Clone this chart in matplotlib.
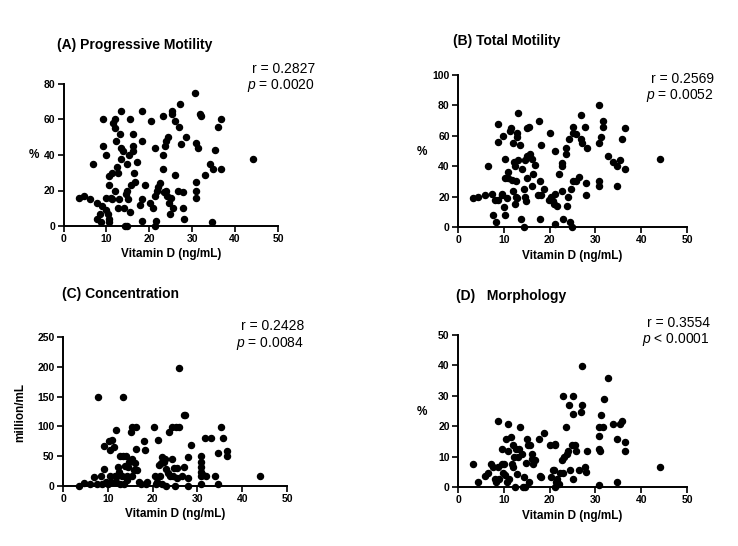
import matplotlib.pyplot as plt

# Vitamin D (ng/mL) vs semen parameters
prog_x = [3.5, 4.7, 6.2, 6.8, 7.8, 8.4, 7.9, 8.7, 9.0, 9.1, 9.1, 9.9, 10.0, 10.0, 10.3,
          10.5, 10.5, 10.5, 10.7, 11.0, 11.2, 11.2, 11.6, 12.0, 12.0, 12.2, 12.0, 12.5,
          12.8, 13.0, 12.8, 13.2, 13.5, 13.5, 13.5, 13.8, 14.1, 14.4, 14.9, 14.6, 14.7,
          14.9, 15.1, 15.3, 15.5, 15.5, 15.7, 16.1, 16.3, 16.3, 16.4, 16.6, 17.2, 17.8,
          18.2, 18.4, 18.4, 18.4, 19.0, 20.3, 20.2, 20.8, 21.3, 21.3, 21.5, 21.3, 21.7,
          22.1, 22.5, 23.1, 23.1, 23.1, 23.4, 23.9, 23.6, 24.0, 24.4, 24.2, 24.7, 24.8,
          25.0, 25.4, 25.4, 25.6, 26.0, 26.0, 26.7, 27.0, 27.1, 27.3, 27.9, 27.9, 28.1,
          28.5, 30.7, 30.9, 30.9, 30.9, 30.9, 31.4, 31.9, 32.1, 33.0, 34.1, 34.7, 34.9,
          35.3, 36.0, 36.6, 36.6, 44.2]
prog_y = [16, 17, 15, 35, 13, 7, 4, 2.5, 11, 60, 45, 16, 40, 9, 7,
          4, 2, 23, 28, 16, 30, 15, 58, 60, 55, 48, 20, 33,
          30, 15, 10, 52, 65, 44, 38, 42, 10, 0, 0, 18, 20,
          35, 15, 40, 60, 8, 23, 52, 45, 42, 30, 25, 36, 12,
          65, 48, 15, 3, 23, 59, 13, 10, 44, 17, 3, 0, 20,
          22, 24, 62, 40, 32, 19, 20, 45, 48, 50, 17, 13, 7,
          16, 65, 63, 10, 59, 29, 20, 56, 69, 46, 19, 10, 4,
          50, 75, 47, 25, 20, 16, 44, 63, 62, 29, 35, 2, 32,
          43, 56, 60, 32, 38]

total_x = [3.3, 4.4, 5.8, 6.6, 7.5, 7.7, 8.0, 8.4, 8.7, 8.7, 8.7, 9.5, 9.7, 9.9, 10.0,
           10.2, 10.2, 10.2, 10.6, 11.0, 11.0, 11.3, 11.5, 11.7, 11.9, 12.0, 12.2, 12.4,
           12.4, 12.6, 12.6, 12.8, 12.9, 13.1, 12.9, 13.1, 13.5, 13.7, 13.9, 14.4, 14.4,
           14.6, 14.7, 14.8, 15.0, 15.0, 15.1, 15.5, 15.8, 16.1, 16.1, 16.3, 16.8, 17.5,
           17.7, 18.0, 18.2, 18.0, 18.2, 18.8, 20.1, 19.9, 20.4, 20.7, 20.9, 21.2, 21.2,
           21.2, 21.7, 22.1, 22.6, 22.8, 22.8, 23.0, 23.6, 23.6, 23.7, 24.1, 24.3, 24.5,
           24.6, 24.8, 25.0, 25.0, 25.2, 25.8, 25.8, 26.5, 26.8, 26.9, 27.0, 27.7, 27.9,
           27.9, 28.2, 30.7, 30.7, 30.7, 30.7, 31.2, 31.7, 31.7, 32.8, 33.9, 34.7, 34.7,
           35.3, 35.8, 36.5, 36.5, 44.0]
total_y = [19, 20, 21, 40, 22, 8, 18, 3, 68, 56, 18, 21, 22, 60, 13,
           8, 45, 32, 19, 36, 32, 63, 65, 31, 24, 55, 43, 15,
           40, 20, 30, 62, 59, 75, 19, 44, 54, 5, 38, 25, 0,
           20, 44, 17, 32, 47, 65, 66, 48, 45, 27, 35, 41, 21,
           70, 5, 54, 30, 21, 25, 62, 18, 20, 17, 15, 2, 50,
           22, 14, 35, 24, 42, 40, 5, 52, 48, 14, 20, 58, 3,
           25, 0, 30, 66, 62, 61, 30, 33, 58, 74, 55, 66, 29,
           21, 52, 80, 55, 30, 27, 59, 70, 66, 47, 43, 40, 27,
           44, 58, 65, 38, 45]

conc_x = [3.6, 4.6, 6.1, 6.9, 7.6, 7.8, 8.4, 8.8, 9.1, 9.1, 9.6, 10.1, 10.3, 10.4, 10.6,
          10.8, 11.0, 11.3, 11.6, 11.8, 11.9, 12.1, 12.3, 12.5, 12.7, 12.8, 13.1, 13.3,
          13.4, 13.6, 13.8, 14.0, 14.2, 14.3, 14.6, 14.8, 15.1, 15.3, 15.3, 15.5, 15.8,
          16.0, 16.3, 16.3, 16.6, 17.0, 17.5, 18.1, 18.3, 18.5, 18.8, 20.3, 20.5, 20.7,
          21.0, 21.3, 21.5, 21.6, 21.8, 22.0, 22.2, 22.5, 22.8, 23.0, 23.1, 23.5, 23.7,
          23.9, 24.3, 24.3, 24.5, 24.8, 25.0, 25.2, 25.4, 25.4, 25.8, 26.0, 26.5, 26.9,
          27.0, 27.2, 27.8, 28.0, 28.0, 28.5, 30.7, 30.7, 30.7, 30.7, 30.7, 30.7, 31.3,
          31.7, 31.9, 33.0, 33.9, 34.7, 34.7, 35.2, 35.8, 36.6, 36.6, 44.0]
conc_y = [0, 5, 3, 15, 3, 149, 17, 3, 67, 28, 7, 3, 75, 60, 17,
          7, 78, 65, 16, 94, 7, 17, 32, 24, 3, 50, 16, 149,
          50, 3, 33, 50, 10, 16, 32, 41, 90, 46, 16, 99, 27,
          38, 99, 62, 27, 7, 3, 75, 60, 3, 7, 99, 16, 3,
          7, 78, 35, 17, 39, 49, 3, 41, 46, 0, 28, 22, 90,
          16, 99, 45, 17, 30, 0, 99, 30, 13, 198, 99, 16, 119,
          32, 119, 0, 13, 49, 69, 50, 41, 32, 24, 16, 3, 18,
          80, 16, 80, 16, 56, 3, 99, 80, 59, 50, 16]

morph_x = [3.3, 4.4, 5.8, 6.6, 7.3, 7.7, 8.0, 8.4, 8.7, 8.7, 9.0, 9.5, 9.7, 9.9, 10.0,
           10.2, 10.4, 10.6, 11.0, 11.0, 11.2, 11.5, 11.7, 11.9, 12.0, 12.2, 12.4, 12.6,
           12.8, 13.1, 13.3, 13.6, 13.9, 14.1, 14.4, 14.6, 14.8, 15.1, 15.3, 15.5, 15.8,
           16.1, 16.1, 16.3, 16.8, 17.7, 17.9, 18.2, 18.8, 20.1, 20.2, 20.7, 20.9, 21.2,
           21.2, 21.2, 21.4, 21.7, 22.1, 22.3, 22.6, 23.0, 23.0, 23.1, 23.6, 23.9, 24.1,
           24.3, 24.5, 24.8, 25.0, 25.0, 25.2, 25.5, 25.8, 26.5, 26.8, 27.0, 27.0, 27.7,
           27.9, 28.2, 30.7, 30.7, 30.7, 30.7, 30.9, 31.2, 31.7, 31.9, 32.8, 33.9, 34.7,
           34.7, 35.3, 35.8, 36.5, 36.5, 44.0]
morph_y = [7.7, 1.6, 3.6, 4.6, 7.7, 6.6, 2.7, 1.6, 21.8, 6.6, 2.7, 7.7, 12.6, 4.6, 7.7,
           3.8, 15.9, 1.6, 20.7, 11.9, 2.7, 16.5, 7.7, 6.6, 13.7, 9.9, 0, 12.6,
           4.4, 9.9, 12.6, 19.8, 11.0, 0, 3.3, 0, 7.9, 15.9, 13.7, 1.6, 13.7,
           10.8, 9.3, 7.7, 8.8, 15.9, 3.5, 3.3, 17.8, 13.7, 3.3, 5.7, 5.7, 14.3,
           13.7, 0, 1.6, 2.7, 0.9, 4.6, 8.8, 29.9, 4.6, 9.9, 19.8, 11.0, 11.9,
           26.9, 5.5, 13.7, 29.9, 2.7, 24.0, 13.7, 11.9, 5.7, 24.7, 39.9, 26.9, 6.6,
           4.9, 11.9, 0.5, 16.7, 19.8, 12.6, 11.9, 23.8, 19.8, 28.8, 35.7, 20.7, 1.6,
           15.9, 20.7, 21.8, 14.8, 11.9, 6.6]

W, H = 738, 546

plt.rcParams["font.family"] = "Liberation Sans"
plt.rcParams["mathtext.fontset"] = "custom"
plt.rcParams["mathtext.rm"] = "Liberation Sans"
plt.rcParams["mathtext.it"] = "Liberation Sans:italic"


def frac(x, y):
    return x / W, 1 - y / H


def panel(fig, box, xs, ys, ymax, ystep, title, title_xy, ylabel, ylabel_xy,
          r_text, p_text, stat_xy, rot=0):
    left, top, right, bottom = box
    ax = fig.add_axes([left / W, 1 - bottom / H, (right - left) / W, (bottom - top) / H])
    ax.scatter(xs, ys, s=19, color="black", clip_on=False, zorder=3)
    ax.set_xlim(0, 50)
    ax.set_ylim(0, ymax)
    ax.set_xticks(range(0, 51, 10))
    ax.set_yticks(range(0, ymax + 1, ystep))
    for side in ["top", "right"]:
        ax.spines[side].set_visible(False)
    for side in ["left", "bottom"]:
        ax.spines[side].set_linewidth(1.4)
    ax.tick_params(direction="out", length=4, width=1.2, labelsize=7.5, pad=2)
    for lab in ax.get_xticklabels() + ax.get_yticklabels():
        lab.set_fontweight("bold")
    ax.set_xlabel("Vitamin D (ng/mL)", fontsize=8.5, fontweight="bold", labelpad=3)

    fig.text(*frac(*title_xy), title, fontsize=10, fontweight="bold", va="center")
    fig.text(*frac(*ylabel_xy), ylabel, fontsize=8.5, fontweight="bold",
             ha="center", va="center", rotation=rot)
    sx, sy = stat_xy
    fig.text(*frac(sx, sy), r_text, fontsize=10, ha="right", va="center")
    fig.text(*frac(sx, sy + 17), p_text, fontsize=10, ha="right", va="center")
    return ax


def main() -> None:
    fig = plt.figure(figsize=(7.38, 5.46), dpi=100)

    panel(fig, (63.5, 84, 278, 226), prog_x, prog_y, 80, 20,
          "(A) Progressive Motility", (57, 45), "%", (34, 155),
          "r = 0.2827", "$p$ = 0.0020", (315, 69))
    panel(fig, (458, 75, 687, 227), total_x, total_y, 100, 20,
          "(B) Total Motility", (453, 41), "%", (422, 152),
          "r = 0.2569", "$p$ = 0.0052", (714, 79))
    panel(fig, (63, 337, 287, 486), conc_x, conc_y, 250, 50,
          "(C) Concentration", (62, 294), "million/mL", (20, 412),
          "r = 0.2428", "$p$ = 0.0084", (304, 326), rot=90)
    panel(fig, (458, 335, 687, 487), morph_x, morph_y, 50, 10,
          "(D)   Morphology", (456, 296), "%", (422, 412),
          "r = 0.3554", "$p$ < 0.0001", (710, 323))

    fig.savefig("out.png", dpi=100)


if __name__ == "__main__":
    main()
